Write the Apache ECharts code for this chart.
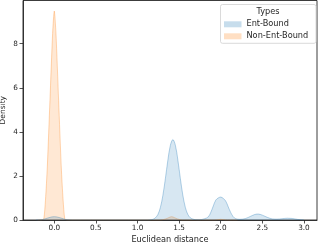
<!DOCTYPE html>
<html><head><meta charset="utf-8">
<script src="https://cdn.jsdelivr.net/npm/echarts@6/dist/echarts.min.js"></script>
<style>html,body{margin:0;padding:0;background:#fff}#c{width:319px;height:244px}</style>
</head><body><div id="c"></div>
<script>
const seriesNames = ['Ent-Bound', 'Non-Ent-Bound'];
const xTicks = [0, 0.5, 1.0, 1.5, 2.0, 2.5, 3.0];
const yTicks = [0, 2, 4, 6, 8];
const entBound = [
  [-0.22,0],[-0.14,0.02],[-0.08,0.09],[-0.03,0.14],[0,0.15],[0.03,0.14],[0.08,0.09],[0.14,0.02],[0.22,0],
  [1.12,0],[1.155,0.01],[1.185,0.03],[1.215,0.1],[1.245,0.25],[1.275,0.57],[1.305,1.12],[1.335,1.88],[1.365,2.72],
  [1.395,3.39],[1.425,3.65],[1.455,3.39],[1.485,2.72],[1.515,1.88],[1.545,1.12],[1.575,0.57],[1.605,0.25],
  [1.635,0.1],[1.665,0.04],[1.70,0.015],
  [1.74,0.01],[1.80,0.05],[1.85,0.14],[1.88,0.34],[1.91,0.63],[1.94,0.9],[1.97,1.0],[2.0,1.04],[2.03,0.98],
  [2.06,0.86],[2.09,0.6],[2.12,0.34],[2.15,0.15],[2.18,0.06],[2.23,0.03],[2.30,0.07],[2.36,0.17],[2.41,0.25],
  [2.45,0.27],[2.5,0.22],[2.56,0.12],[2.62,0.05],[2.68,0.04],[2.74,0.06],[2.8,0.08],[2.86,0.07],[2.92,0.03],[3.0,0]
];
const nonEntBound = [
  [-0.2,0],[-0.145,0.01],[-0.126,0.05],[-0.106,0.9],[-0.084,2.4],[-0.052,5.43],[-0.02,8.47],[0,9.48],
  [0.02,8.47],[0.052,5.43],[0.084,2.4],[0.106,0.9],[0.126,0.05],[0.145,0.01],[0.2,0],
  [1.28,0],[1.34,0.05],[1.41,0.15],[1.48,0.05],[1.54,0],
  [1.93,0],[2.0,0.03],[2.07,0],[2.2,0]
];

const blueFill = 'rgba(31,119,180,0.25)', blueLine = 'rgba(31,119,180,0.32)';
const orFill = 'rgba(255,127,14,0.25)', orLine = 'rgba(255,127,14,0.3)';
const font = 'DejaVu Sans';
const chart = echarts.init(document.getElementById('c'), null, {renderer: 'canvas'});
chart.setOption({
  animation: false,
  grid: {left: 23, right: 2, top: 0.5, bottom: 24, show: true, borderColor: '#262626', borderWidth: 0.9,
    backgroundColor: 'transparent', outerBoundsMode: 'none', containLabel: false},
  xAxis: {
    type: 'value', min: -0.376, max: 3.157,
    name: 'Euclidean distance', nameLocation: 'middle', nameGap: 16, nameMoveOverlap: false,
    nameTextStyle: {fontFamily: font, fontSize: 8.2, color: '#262626'},
    axisLine: {show: true, onZero: false, lineStyle: {color: '#262626', width: 0.9}},
    axisTick: {show: true, length: 3.5, lineStyle: {color: '#262626', width: 0.8}, customValues: xTicks},
    axisLabel: {fontFamily: font, fontSize: 7.3, color: '#262626', margin: 5, customValues: xTicks,
      formatter: v => v.toFixed(1)},
    splitLine: {show: false}
  },
  yAxis: {
    type: 'value', min: 0, max: 9.96,
    name: 'Density', nameLocation: 'middle', nameGap: 15.5, nameMoveOverlap: false,
    nameTextStyle: {fontFamily: font, fontSize: 7.5, color: '#262626'},
    axisLine: {show: true, onZero: false, lineStyle: {color: '#262626', width: 0.9}},
    axisTick: {show: true, length: 3.5, lineStyle: {color: '#262626', width: 0.8}, customValues: yTicks},
    axisLabel: {fontFamily: font, fontSize: 7.3, color: '#262626', margin: 5, customValues: yTicks},
    splitLine: {show: false}
  },
  legend: {
    orient: 'vertical', left: 224, top: 19.3, itemWidth: 17.5, itemHeight: 6, itemGap: 2, icon: 'rect',
    padding: 0,
    textStyle: {fontFamily: font, fontSize: 8.2, color: '#262626', lineHeight: 10},
    data: [
      {name: seriesNames[0], itemStyle: {color: blueFill, borderWidth: 0}},
      {name: seriesNames[1], itemStyle: {color: orFill, borderWidth: 0}}
    ],
    z: 20
  },
  graphic: [
    {type: 'rect', shape: {x: 220.5, y: 4.5, width: 95.5, height: 38.8, r: 2}, z: 15,
      style: {fill: 'rgba(255,255,255,0.85)', stroke: '#d0d0d0', lineWidth: 0.8}},
    {type: 'text', x: 268, y: 12, z: 16,
      style: {text: 'Types', fontFamily: font, fontSize: 8.2, fill: '#262626', align: 'center', verticalAlign: 'middle'}}
  ],
  series: [
    {name: seriesNames[0], type: 'line', data: entBound, smooth: 0.35, showSymbol: false, symbol: 'none',
      lineStyle: {color: blueLine, width: 1}, itemStyle: {color: blueFill}, areaStyle: {color: blueFill}, z: 3},
    {name: seriesNames[1], type: 'line', data: nonEntBound, smooth: 0.25, showSymbol: false, symbol: 'none',
      lineStyle: {color: orLine, width: 1}, itemStyle: {color: orFill}, areaStyle: {color: orFill}, z: 2}
  ]
});
</script></body></html>
